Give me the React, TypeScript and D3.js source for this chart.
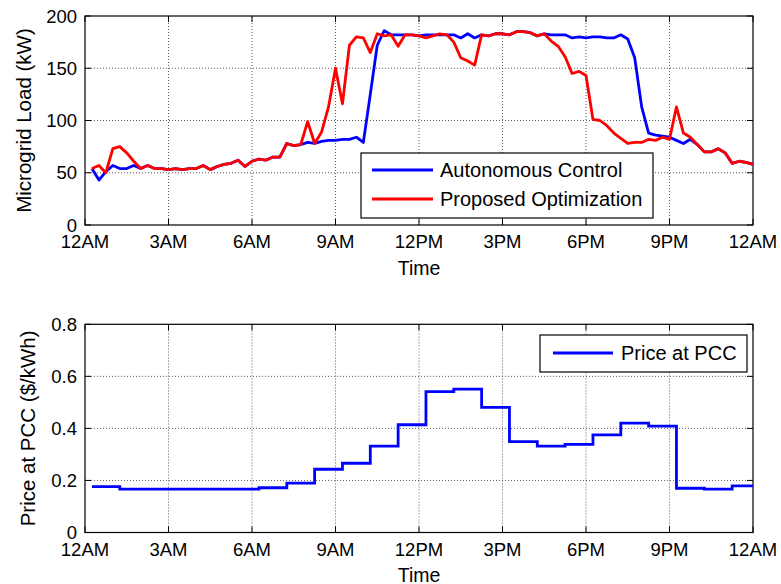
import React from "react";
import * as d3 from "d3";

const xTickHours = [0, 3, 6, 9, 12, 15, 18, 21, 24];
const xTickLabels = ["12AM", "3AM", "6AM", "9AM", "12PM", "3PM", "6PM", "9PM", "12AM"];
const loadTicks = [0, 50, 100, 150, 200];
const priceTicks = [0, 0.2, 0.4, 0.6, 0.8];
const priceTickLabels = ["0", "0.2", "0.4", "0.6", "0.8"];

// 15-minute samples, first sample at 12:15AM, last at 12AM
const autonomousLoad = [
  54, 43, 51, 57, 54, 54, 57, 54, 57, 54, 54, 53, 54, 53, 54, 54,
  57, 53, 56, 58, 59, 62, 56, 61, 63, 62, 65, 65, 78, 76, 77, 79,
  78, 80, 81, 81, 82, 82, 84, 79, 125, 172, 186, 182, 182, 182, 182, 181,
  182, 182, 182, 182, 182, 179, 183, 179, 182, 181, 183, 183, 182, 185,
  185, 184, 181, 183, 182, 182, 182, 179, 180, 179, 180, 180, 179, 179,
  182, 178, 160, 113, 88, 86, 85, 84, 81, 78, 82, 77, 70, 70, 73, 69,
  59, 61, 60, 58,
];
const proposedLoad = [
  54, 57, 50, 73, 75, 69, 61, 54, 57, 54, 54, 53, 54, 53, 54, 54,
  57, 53, 56, 58, 59, 62, 56, 61, 63, 62, 65, 65, 78, 76, 77, 99,
  78, 89, 113, 150, 116, 172, 180, 179, 165, 183, 181, 182, 171, 182, 182, 181,
  179, 181, 183, 182, 175, 160, 157, 153, 182, 181, 183, 183, 182, 185,
  185, 184, 181, 183, 176, 171, 161, 145, 147, 143, 101, 100, 95, 88,
  83, 78, 79, 79, 82, 81, 84, 82, 113, 88, 84, 77, 70, 70, 73, 69,
  59, 61, 60, 58,
];
// hourly price, each applied from h:15 to (h+1):15
const hourlyPrice = [
  0.176, 0.167, 0.167, 0.167, 0.167, 0.167, 0.172, 0.19, 0.243, 0.266, 0.332, 0.414,
  0.541, 0.551, 0.481, 0.349, 0.332, 0.339, 0.375, 0.42, 0.409, 0.17, 0.167, 0.179,
];

const FONT = "'Liberation Sans', Arial, Helvetica, sans-serif";
const BLUE = "#0000ff";
const RED = "#ff0000";

const x = d3.scaleLinear().domain([0, 24]).range([85, 753]);
const yLoad = d3.scaleLinear().domain([0, 200]).range([225, 16]);
const yPrice = d3.scaleLinear().domain([0, 0.8]).range([532.5, 324.3]);

function Frame({ y, yTicks, yLabels, tickLabelY, timeY, yTitle, yTitleX }: any) {
  const [b, t] = y.range();
  const l = x.range()[0];
  const r = x.range()[1];
  const tl = 6;
  return (
    <g>
      {xTickHours.slice(1, -1).map((h) => (
        <line key={"gx" + h} x1={x(h)} x2={x(h)} y1={b} y2={t} stroke="#333" strokeWidth={0.8} strokeDasharray="1,2" />
      ))}
      {yTicks.slice(1, -1).map((v: number) => (
        <line key={"gy" + v} x1={l} x2={r} y1={y(v)} y2={y(v)} stroke="#333" strokeWidth={0.8} strokeDasharray="1,2" />
      ))}
      {xTickHours.map((h) => (
        <g key={"tx" + h}>
          <line x1={x(h)} x2={x(h)} y1={b} y2={b - tl} stroke="#000" />
          <line x1={x(h)} x2={x(h)} y1={t} y2={t + tl} stroke="#000" />
        </g>
      ))}
      {yTicks.map((v: number) => (
        <g key={"ty" + v}>
          <line x1={l} x2={l + tl} y1={y(v)} y2={y(v)} stroke="#000" />
          <line x1={r} x2={r - tl} y1={y(v)} y2={y(v)} stroke="#000" />
        </g>
      ))}
      <rect x={l} y={t} width={r - l} height={b - t} fill="none" stroke="#000" strokeWidth={1.2} />
      {xTickHours.map((h, i) => (
        <text key={"lx" + h} x={x(h)} y={tickLabelY} textAnchor="middle" fontSize={18.5} fontFamily={FONT}>
          {xTickLabels[i]}
        </text>
      ))}
      {yTicks.map((v: number, i: number) => (
        <text key={"ly" + v} x={l - 8} y={y(v) + 6.6} textAnchor="end" fontSize={18.5} fontFamily={FONT}>
          {yLabels[i]}
        </text>
      ))}
      <text x={(l + r) / 2} y={timeY} textAnchor="middle" fontSize={19.5} fontFamily={FONT}>
        Time
      </text>
      <text
        transform={`translate(${yTitleX},${(b + t) / 2}) rotate(-90)`}
        textAnchor="middle"
        fontSize={20.5}
        fontFamily={FONT}
      >
        {yTitle}
      </text>
    </g>
  );
}

export default function App() {
  const tLoad = (_: number, i: number) => x(0.25 * (i + 1));
  const loadLine = d3
    .line<number>()
    .x((d, i) => tLoad(d, i))
    .y((d) => yLoad(d));
  const pricePts: [number, number][] = hourlyPrice.map((p, h) => [h + 0.25, p]);
  pricePts.push([24, hourlyPrice[hourlyPrice.length - 1]]);
  const priceLine = d3
    .line<[number, number]>()
    .x((d) => x(d[0]))
    .y((d) => yPrice(d[1]))
    .curve(d3.curveStepAfter);

  return (
    <svg width={781} height={584} style={{ position: "absolute", left: 0, top: 0, background: "#fff" }}>
      <rect x={0} y={0} width={781} height={584} fill="#fff" />
      <Frame
        y={yLoad}
        yTicks={loadTicks}
        yLabels={loadTicks.map(String)}
        tickLabelY={248}
        timeY={275}
        yTitle="Microgrid Load (kW)"
        yTitleX={31}
      />
      <path d={loadLine(autonomousLoad) || ""} fill="none" stroke={BLUE} strokeWidth={2.8} strokeLinejoin="round" />
      <path d={loadLine(proposedLoad) || ""} fill="none" stroke={RED} strokeWidth={2.8} strokeLinejoin="round" />
      <g>
        <rect x={361} y={153} width={292} height={65} fill="#fff" stroke="#000" strokeWidth={1.2} />
        <line x1={372} x2={433} y1={170} y2={170} stroke={BLUE} strokeWidth={2.8} />
        <text x={440} y={177} fontSize={20} fontFamily={FONT}>Autonomous Control</text>
        <line x1={372} x2={433} y1={199} y2={199} stroke={RED} strokeWidth={2.8} />
        <text x={440} y={206} fontSize={20} fontFamily={FONT}>Proposed Optimization</text>
      </g>

      <Frame
        y={yPrice}
        yTicks={priceTicks}
        yLabels={priceTickLabels}
        tickLabelY={556}
        timeY={582}
        yTitle="Price at PCC ($/kWh)"
        yTitleX={35}
      />
      <path d={priceLine(pricePts) || ""} fill="none" stroke={BLUE} strokeWidth={2.8} />
      <g>
        <rect x={540} y={335} width={207} height={37} fill="#fff" stroke="#000" strokeWidth={1.2} />
        <line x1={553} x2={613} y1={353} y2={353} stroke={BLUE} strokeWidth={2.8} />
        <text x={621} y={360} fontSize={20} fontFamily={FONT}>Price at PCC</text>
      </g>
    </svg>
  );
}
